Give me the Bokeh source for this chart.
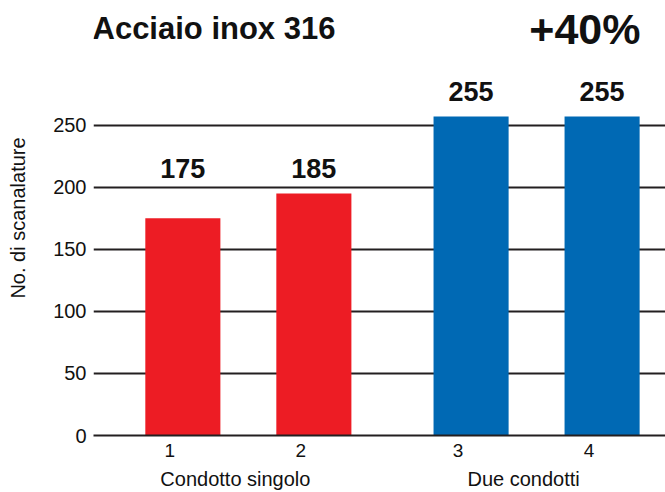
from bokeh.plotting import figure
from bokeh.models import FactorRange, Range1d, FixedTicker, Label, ColumnDataSource
from bokeh.transform import dodge
from bokeh.embed import file_html
from bokeh.resources import INLINE
from bokeh.core.properties import value

# ---- data ----
groups = ["Condotto singolo", "Condotto singolo", "Due condotti", "Due condotti"]
bars = ["1", "2", "3", "4"]
heights = [175, 195, 257, 257]
value_labels = ["175", "185", "255", "255"]
colors = ["#ed1c24", "#ed1c24", "#0069b4", "#0069b4"]
y_ticks = [0, 50, 100, 150, 200, 250]
title_text = "Acciaio inox 316"
gain_text = "+40%"
y_title = "No. di scanalature"

FONT = "Liberation Sans"
INK = "#111111"
GRID = "#231f20"

factors = list(zip(groups, bars))
group_max = {g: max(h for gg, h in zip(groups, heights) if gg == g) for g in groups}
label_y = [group_max[g] + 20 for g in groups]

src = ColumnDataSource(dict(x=factors, top=heights, color=colors,
                            label=value_labels, ly=label_y))

x_range = FactorRange(*factors, factor_padding=0, group_padding=0.2,
                      range_padding=0.083, range_padding_units="absolute")

p = figure(width=665, height=492, output_backend="svg", toolbar_location=None,
           x_range=x_range, y_range=Range1d(0, 350.5),
           min_border_left=93, min_border_right=0, min_border_top=0,
           min_border_bottom=56)
p.outline_line_color = None
p.background_fill_color = "white"
p.border_fill_color = "white"

shift = dodge("x", 0.099, range=p.x_range)
p.vbar(x=shift, top="top", bottom=0, width=0.573, color="color",
       line_color=None, source=src)
p.text(x=shift, y="ly", text="label", text_align="center",
       text_baseline="alphabetic", text_font=value(FONT), text_font_style="bold",
       text_font_size="27px", text_color=INK, source=src)

# y axis
p.yaxis.ticker = FixedTicker(ticks=y_ticks)
p.yaxis.axis_line_color = None
p.yaxis.major_tick_line_color = None
p.yaxis.minor_tick_line_color = None
p.yaxis.major_tick_out = 0
p.yaxis.major_tick_in = 0
p.yaxis.major_label_standoff = 7
p.yaxis.major_label_text_font = FONT
p.yaxis.major_label_text_font_size = "20px"
p.yaxis.major_label_text_color = INK
p.yaxis.axis_label = y_title
p.yaxis.axis_label_text_font = FONT
p.yaxis.axis_label_text_font_size = "20px"
p.yaxis.axis_label_text_font_style = "normal"
p.yaxis.axis_label_text_color = INK
p.yaxis.axis_label_standoff = 21

p.ygrid.grid_line_color = GRID
p.ygrid.grid_line_width = 2
p.xgrid.grid_line_color = None

# x axis
p.xaxis.axis_line_color = GRID
p.xaxis.axis_line_width = 2
p.xaxis.major_tick_line_color = None
p.xaxis.minor_tick_line_color = None
p.xaxis.major_tick_out = 0
p.xaxis.major_tick_in = 0
p.xaxis.separator_line_color = None
p.xaxis.major_label_standoff = 8
p.xaxis.major_label_text_font = FONT
p.xaxis.major_label_text_font_size = "19px"
p.xaxis.major_label_text_color = INK
p.xaxis.group_text_font = FONT
p.xaxis.group_text_font_size = "20px"
p.xaxis.group_text_font_style = "normal"
p.xaxis.group_text_color = INK

# headline texts
p.add_layout(Label(x=-1, y=328, x_units="screen", y_units="data", text=title_text,
                   text_font=FONT, text_font_style="bold", text_font_size="31px",
                   text_color=INK, text_align="left", text_baseline="alphabetic"))
p.add_layout(Label(x=547, y=327.5, x_units="screen", y_units="data", text=gain_text,
                   text_font=FONT, text_font_style="bold", text_font_size="43px",
                   text_color=INK, text_align="right", text_baseline="alphabetic"))

open("out.html", "w").write(file_html(p, INLINE))
